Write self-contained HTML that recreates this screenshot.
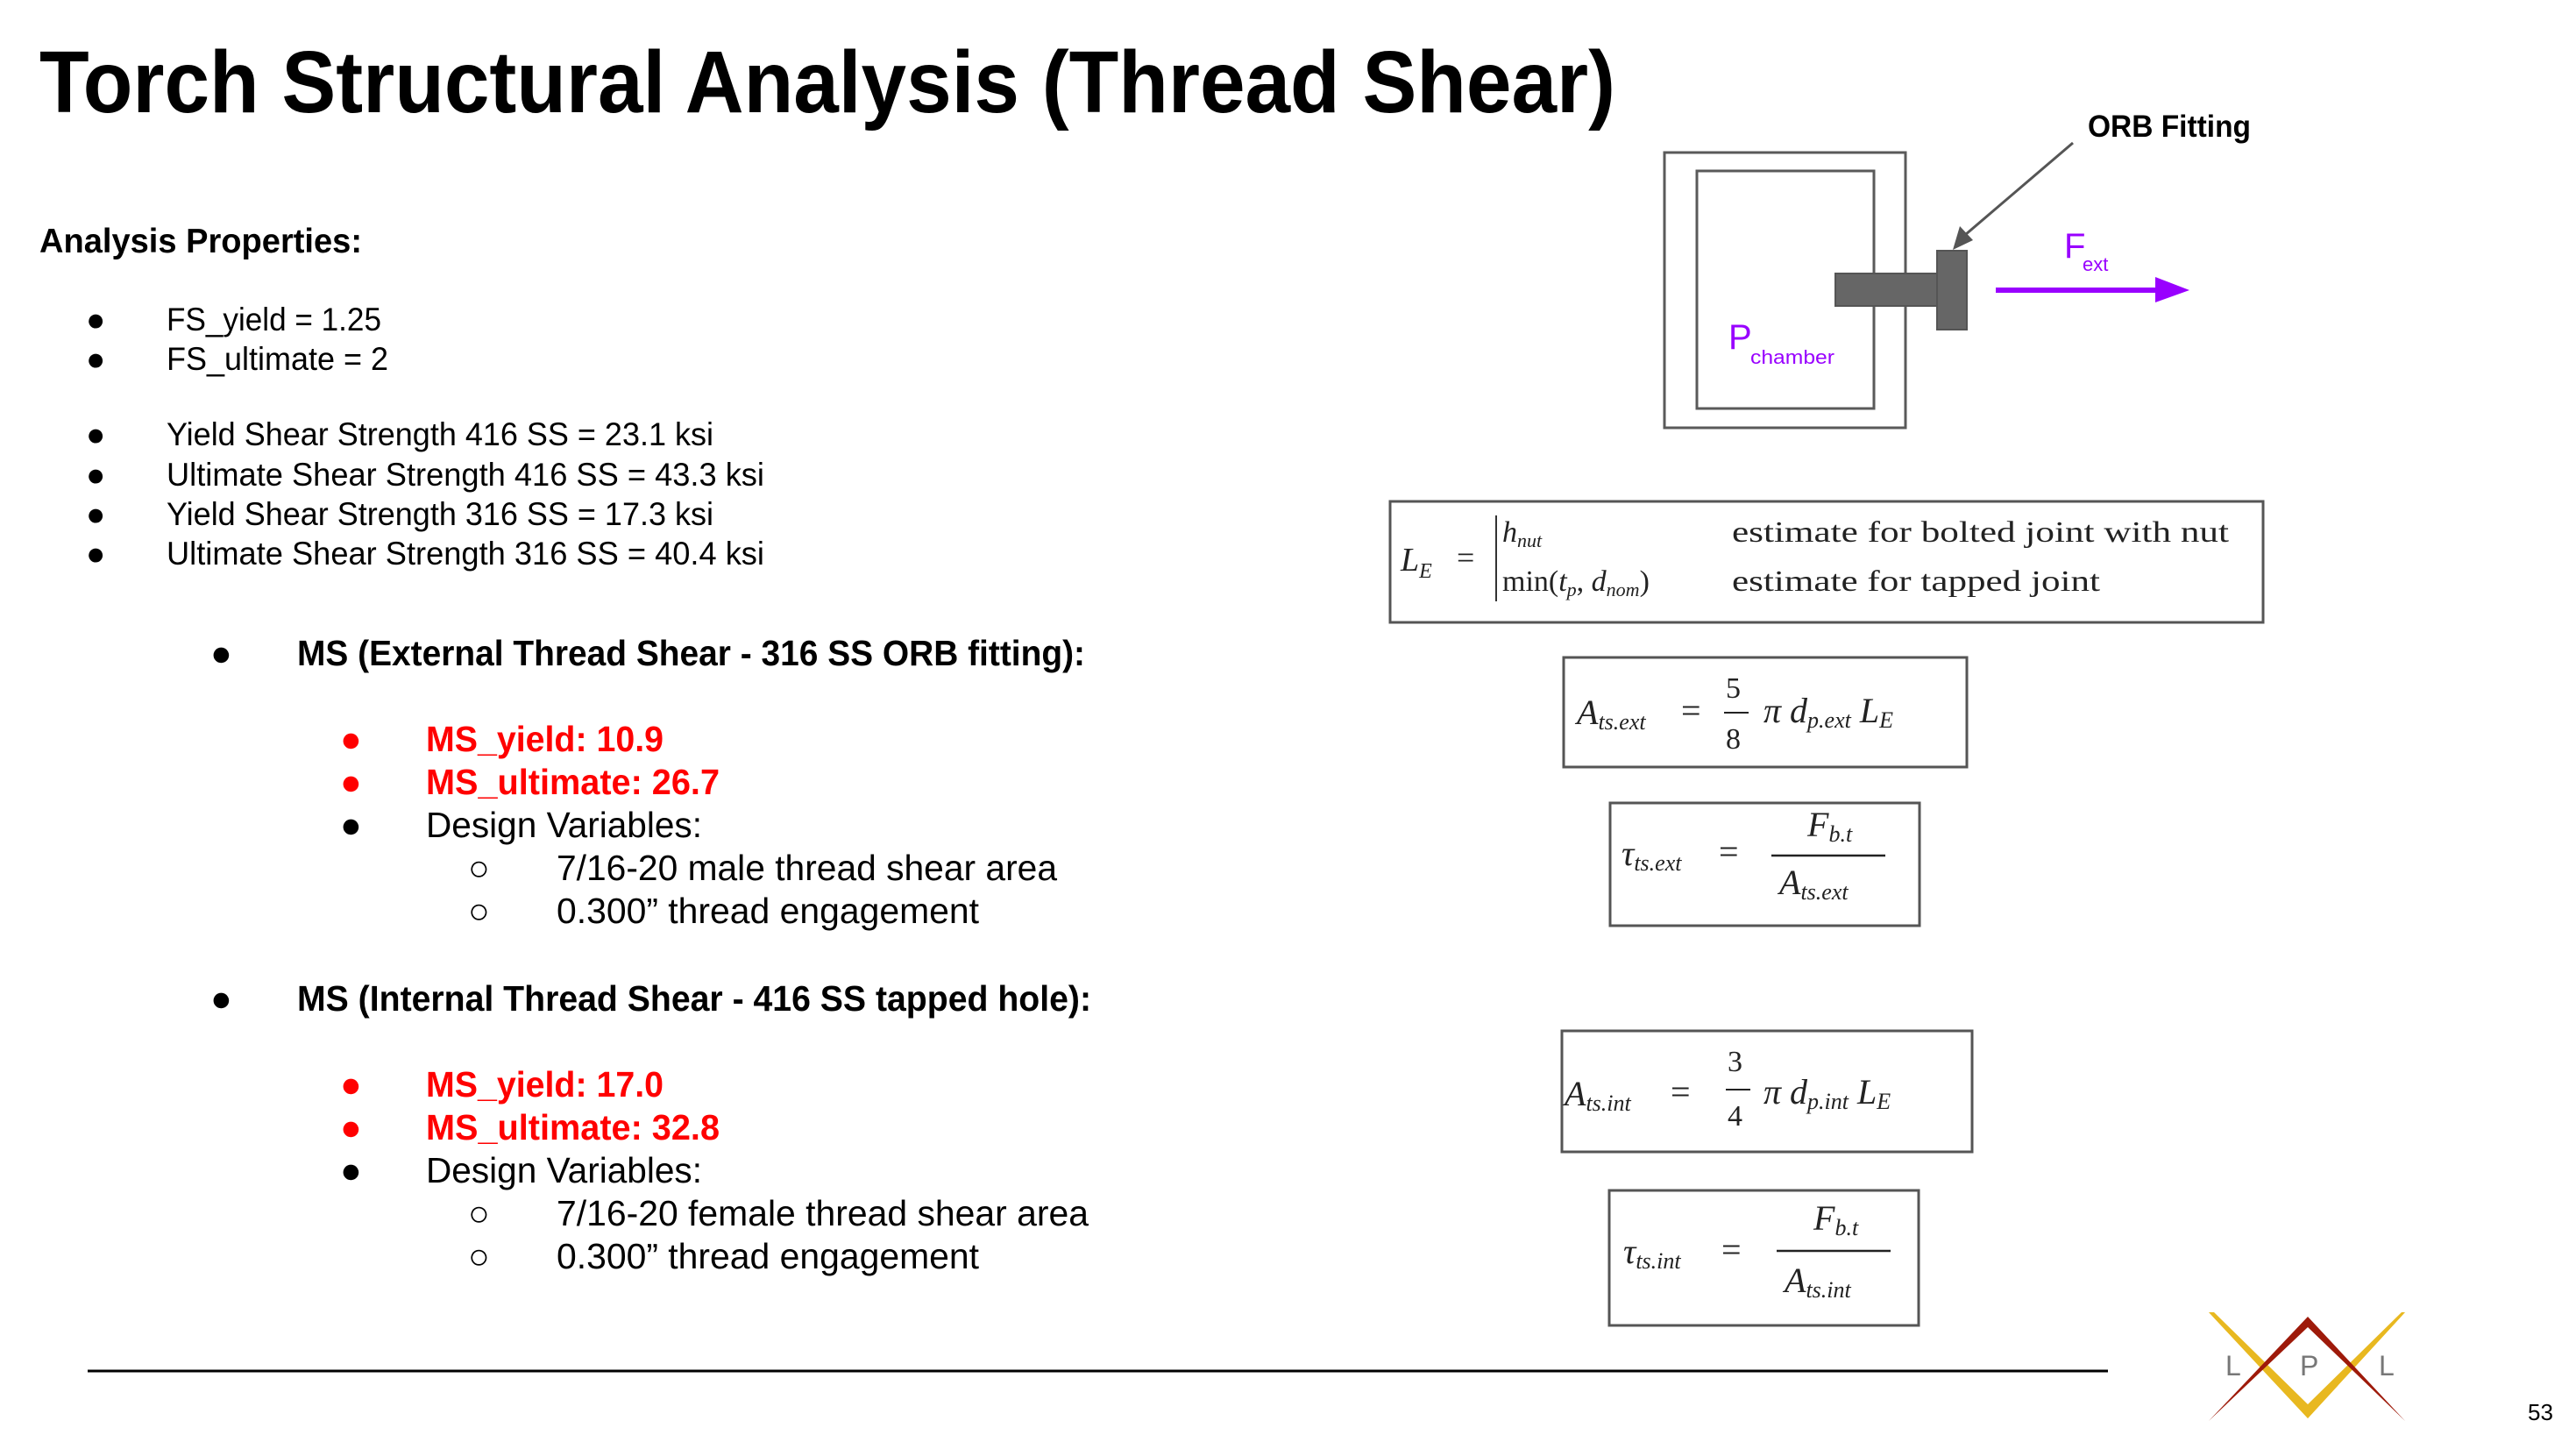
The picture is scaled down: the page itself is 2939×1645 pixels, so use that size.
<!DOCTYPE html>
<html><head><meta charset="utf-8"><style>
html,body{margin:0;padding:0;background:#fff;}
svg{display:block;}
.s{font-family:"Liberation Sans",sans-serif;}
.m{font-family:"Liberation Serif",serif;fill:#222;}
</style></head><body>
<svg width="2939" height="1645" viewBox="0 0 2939 1645" xmlns="http://www.w3.org/2000/svg">
<g transform="translate(0,-4)">
<g class="s" fill="#000">
<text x="45" y="132" font-size="100" font-weight="bold" textLength="1798" lengthAdjust="spacingAndGlyphs">Torch Structural Analysis (Thread Shear)</text>
<text x="45" y="292" font-size="39" font-weight="bold" textLength="368" lengthAdjust="spacingAndGlyphs">Analysis Properties:</text>
<g font-size="37">
<text x="98" y="381">●</text><text x="190" y="381" textLength="245" lengthAdjust="spacingAndGlyphs">FS_yield = 1.25</text>
<text x="98" y="426">●</text><text x="190" y="426" textLength="253" lengthAdjust="spacingAndGlyphs">FS_ultimate = 2</text>
<text x="98" y="512">●</text><text x="190" y="512" textLength="624" lengthAdjust="spacingAndGlyphs">Yield Shear Strength 416 SS = 23.1 ksi</text>
<text x="98" y="558">●</text><text x="190" y="558" textLength="682" lengthAdjust="spacingAndGlyphs">Ultimate Shear Strength 416 SS = 43.3 ksi</text>
<text x="98" y="603">●</text><text x="190" y="603" textLength="624" lengthAdjust="spacingAndGlyphs">Yield Shear Strength 316 SS = 17.3 ksi</text>
<text x="98" y="648">●</text><text x="190" y="648" textLength="682" lengthAdjust="spacingAndGlyphs">Ultimate Shear Strength 316 SS = 40.4 ksi</text>
</g>
<g font-size="41">
<text x="240" y="763">●</text><text x="339" y="763" font-weight="bold" textLength="899" lengthAdjust="spacingAndGlyphs">MS (External Thread Shear - 316 SS ORB fitting):</text>
<text x="388" y="861" fill="#f00">●</text><text x="486" y="861" fill="#f00" font-weight="bold" textLength="271" lengthAdjust="spacingAndGlyphs">MS_yield: 10.9</text>
<text x="388" y="910" fill="#f00">●</text><text x="486" y="910" fill="#f00" font-weight="bold" textLength="335" lengthAdjust="spacingAndGlyphs">MS_ultimate: 26.7</text>
<text x="388" y="959">●</text><text x="486" y="959" textLength="315" lengthAdjust="spacingAndGlyphs">Design Variables:</text>
<text x="534" y="1008">○</text><text x="635" y="1008" textLength="571" lengthAdjust="spacingAndGlyphs">7/16-20 male thread shear area</text>
<text x="534" y="1057">○</text><text x="635" y="1057" textLength="482" lengthAdjust="spacingAndGlyphs">0.300” thread engagement</text>
<text x="240" y="1157">●</text><text x="339" y="1157" font-weight="bold" textLength="906" lengthAdjust="spacingAndGlyphs">MS (Internal Thread Shear - 416 SS tapped hole):</text>
<text x="388" y="1255" fill="#f00">●</text><text x="486" y="1255" fill="#f00" font-weight="bold" textLength="271" lengthAdjust="spacingAndGlyphs">MS_yield: 17.0</text>
<text x="388" y="1304" fill="#f00">●</text><text x="486" y="1304" fill="#f00" font-weight="bold" textLength="335" lengthAdjust="spacingAndGlyphs">MS_ultimate: 32.8</text>
<text x="388" y="1353">●</text><text x="486" y="1353" textLength="315" lengthAdjust="spacingAndGlyphs">Design Variables:</text>
<text x="534" y="1402">○</text><text x="635" y="1402" textLength="607" lengthAdjust="spacingAndGlyphs">7/16-20 female thread shear area</text>
<text x="534" y="1451">○</text><text x="635" y="1451" textLength="482" lengthAdjust="spacingAndGlyphs">0.300” thread engagement</text>
</g>
</g>
<line x1="100" y1="1568" x2="2405" y2="1568" stroke="#000" stroke-width="3"/>
</g>
<g transform="translate(-6,-4)">
<text class="s" x="2890" y="1624" font-size="26">53</text>

<rect x="1905" y="178" width="275" height="314" fill="none" stroke="#5a5a5a" stroke-width="3"/>
<rect x="1942" y="199" width="202" height="271" fill="none" stroke="#5a5a5a" stroke-width="3"/>
<rect x="2100" y="316" width="117" height="37" fill="#666" stroke="#555" stroke-width="2"/>
<rect x="2216" y="290" width="34" height="90" fill="#666" stroke="#555" stroke-width="2"/>
<line x1="2371" y1="167" x2="2248" y2="272" stroke="#555" stroke-width="3"/>
<polygon points="2234,289 2242,262 2257,278" fill="#555"/>
<text class="s" x="2388" y="160" font-size="35" font-weight="bold" textLength="186" lengthAdjust="spacingAndGlyphs">ORB Fitting</text>
<rect x="2283" y="332" width="185" height="6" fill="#9900ff"/>
<polygon points="2465,320 2504,335 2465,349" fill="#9900ff"/>
<text class="s" x="2361" y="298" font-size="40" fill="#9900ff">F</text>
<text class="s" x="2382" y="313" font-size="22" fill="#9900ff">ext</text>
<text class="s" x="1978" y="402" font-size="40" fill="#9900ff">P</text>
<text class="s" x="2003" y="419" font-size="22" fill="#9900ff" textLength="96" lengthAdjust="spacingAndGlyphs">chamber</text>

<g fill="none" stroke="#555" stroke-width="3">
<rect x="1592" y="576" width="996" height="138"/>
<rect x="1790" y="754" width="460" height="125"/>
<rect x="1843" y="920" width="353" height="140"/>
<rect x="1788" y="1180" width="468" height="138"/>
<rect x="1842" y="1362" width="353" height="154"/>
</g>
<g class="m" font-size="34">
<text x="1604" y="655" font-style="italic" font-size="38">L<tspan font-size="24" dy="8">E</tspan></text>
<text x="1668" y="652" font-size="36">=</text>
<line x1="1713" y1="592" x2="1713" y2="690" stroke="#333" stroke-width="2"/>
<text x="1720" y="622" font-style="italic">h<tspan font-size="22" dy="6">nut</tspan></text>
<text x="1720" y="678">min(<tspan font-style="italic">t</tspan><tspan font-size="22" dy="6" font-style="italic">p</tspan><tspan dy="-6">, </tspan><tspan font-style="italic">d</tspan><tspan font-size="22" dy="6" font-style="italic">nom</tspan><tspan dy="-6">)</tspan></text>
<text x="1982" y="622" textLength="567" lengthAdjust="spacingAndGlyphs">estimate for bolted joint with nut</text>
<text x="1982" y="678" textLength="420" lengthAdjust="spacingAndGlyphs">estimate for tapped joint</text>
</g>
<g class="m" font-size="40">
<text x="1805" y="830" font-style="italic">A<tspan font-size="26" dy="6">ts.ext</tspan></text>
<text x="1924" y="828">=</text>
<text x="1975" y="800" font-size="34">5</text>
<line x1="1973" y1="817" x2="2001" y2="817" stroke="#222" stroke-width="2"/>
<text x="1975" y="858" font-size="34">8</text>
<text x="2018" y="828" font-style="italic">π d<tspan font-size="26" dy="6">p.ext</tspan><tspan dy="-6"> L</tspan><tspan font-size="26" dy="6">E</tspan></text>

<text x="1856" y="991" font-style="italic">τ<tspan font-size="26" dy="6">ts.ext</tspan></text>
<text x="1967" y="989">=</text>
<text x="2068" y="958" font-style="italic">F<tspan font-size="26" dy="6">b.t</tspan></text>
<line x1="2027" y1="980" x2="2157" y2="980" stroke="#222" stroke-width="2.5"/>
<text x="2036" y="1024" font-style="italic">A<tspan font-size="26" dy="6">ts.ext</tspan></text>

<text x="1791" y="1265" font-style="italic">A<tspan font-size="26" dy="6">ts.int</tspan></text>
<text x="1912" y="1263">=</text>
<text x="1977" y="1226" font-size="34">3</text>
<line x1="1975" y1="1247" x2="2003" y2="1247" stroke="#222" stroke-width="2"/>
<text x="1977" y="1288" font-size="34">4</text>
<text x="2018" y="1263" font-style="italic">π d<tspan font-size="26" dy="6">p.int</tspan><tspan dy="-6"> L</tspan><tspan font-size="26" dy="6">E</tspan></text>

<text x="1858" y="1445" font-style="italic">τ<tspan font-size="26" dy="6">ts.int</tspan></text>
<text x="1970" y="1443">=</text>
<text x="2075" y="1407" font-style="italic">F<tspan font-size="26" dy="6">b.t</tspan></text>
<line x1="2033" y1="1431" x2="2163" y2="1431" stroke="#222" stroke-width="2.5"/>
<text x="2042" y="1478" font-style="italic">A<tspan font-size="26" dy="6">ts.int</tspan></text>
</g>

<polygon points="2526,1501 2639,1614 2750,1501 2639,1622" fill="#f2c318"/>
<polygon points="2526,1501 2532,1501 2639,1606 2746,1501 2750,1501 2639,1622" fill="#e8b820"/>
<polygon points="2526,1625 2639,1506 2750,1625 2639,1518" fill="#9e1a0a"/>
<g class="s" fill="#777" font-size="32">
<text x="2545" y="1573">L</text><text x="2630" y="1573">P</text><text x="2720" y="1573">L</text>
</g>
</g>
</svg>
</body></html>
